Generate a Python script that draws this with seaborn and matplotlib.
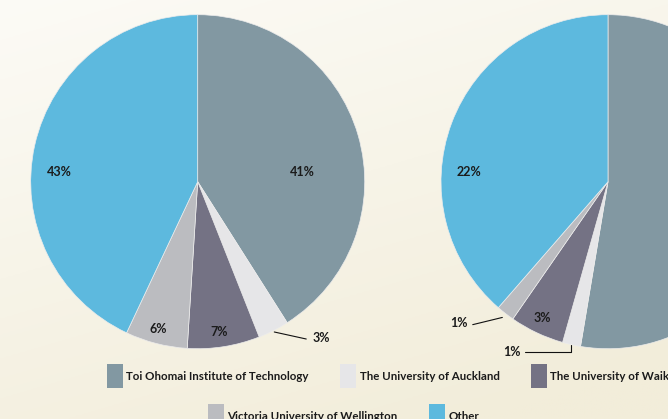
import numpy as np
import seaborn as sns
import matplotlib.pyplot as plt
from matplotlib.patches import Rectangle
from matplotlib.legend_handler import HandlerPatch

# data
institutions = ["Toi Ohomai Institute of Technology", "The University of Auckland",
                "The University of Waikato", "Victoria University of Wellington", "Other"]
share_left = [41, 3, 7, 6, 43]
share_right = [30, 1, 3, 1, 22]
colors = ["#8298a2", "#e6e6e8", "#747284", "#bbbcc0", "#5db9de"]

sns.set_theme(style="white")
plt.rcParams['font.family'] = ['Lato', 'DejaVu Sans']

W, H = 668, 419
fig = plt.figure(figsize=(W / 100, H / 100), dpi=100)

# cream gradient background
bg = fig.add_axes([0, 0, 1, 1], zorder=-10)
yy, xx = np.mgrid[0:1:200j, 0:1:300j]
t = np.clip(0.75 * yy + 0.35 * xx, 0, 1)
c0 = np.array([252, 251, 246]) / 255
c1 = np.array([242, 237, 218]) / 255
img = c0 + (c1 - c0) * t[..., None]
bg.imshow(img, aspect='auto', extent=[0, 1, 0, 1])
bg.axis('off')


def pie_axes(cx, cy, r):
    return fig.add_axes([(cx - r) / W, 1 - (cy + r) / H, 2 * r / W, 2 * r / H])


def draw_pie(ax, values, label_pos):
    wedges, _ = ax.pie(values, colors=colors, startangle=90, counterclock=False,
                       wedgeprops=dict(edgecolor='#ececec', linewidth=0.5))
    for w in wedges:
        w.set_clip_on(False)
    ax.set_xlim(-1, 1)
    ax.set_ylim(-1, 1)
    for v, (x, y) in zip(values, label_pos):
        ax.text(x, y, f"{v}%", ha='center', va='center', fontsize=9,
                fontweight='bold', color='#1b1b1b')
    return wedges


def mid_point(w, r=1.01):
    a = np.deg2rad((w.theta1 + w.theta2) / 2)
    return r * np.cos(a), r * np.sin(a)


ax1 = pie_axes(197.7, 181.7, 167)
w1 = draw_pie(ax1, share_left,
              [(0.629, 0.06), (0.74, -0.934), (0.128, -0.902), (-0.238, -0.882), (-0.83, 0.058)])
sx, sy = mid_point(w1[1])
ax1.plot([sx, 0.65], [sy, -0.942], color='#111111', lw=0.8, clip_on=False)

ax2 = pie_axes(608, 181.7, 167)
w2 = draw_pie(ax2, share_right,
              [(0.9, 0.06), (-0.575, -1.022), (-0.391, -0.814), (-0.89, -0.848), (-0.83, 0.058)])
sx, sy = mid_point(w2[1], 1.0)
ax2.plot([sx, sx, -0.50], [sy, -1.022, -1.022], color='#111111', lw=0.8, clip_on=False)
sx, sy = mid_point(w2[3], 1.03)
ax2.plot([sx, -0.81], [sy, -0.856], color='#111111', lw=0.8, clip_on=False)

fs = 8.3
px = fs * 100 / 72


def tall_patch(legend, orig_handle, xdescent, ydescent, width, height, fontsize):
    # 24 px tall box, 8 px below the text baseline
    return Rectangle((-xdescent, -8 * 0.72), width, 24 * 0.72)


handles = [Rectangle((0, 0), 1, 1, facecolor=c, edgecolor='none') for c in colors]
leg_kw = dict(loc='upper left', frameon=False, borderpad=0, borderaxespad=0,
              handlelength=16 / px, handleheight=24 / px,
              handletextpad=0.3, columnspacing=2.7,
              handler_map={Rectangle: HandlerPatch(patch_func=tall_patch)},
              prop=dict(weight='bold', size=fs))
leg1 = fig.legend(handles[:3], institutions[:3], ncol=3,
                  bbox_to_anchor=(107 / W, 1 - 367 / H), **leg_kw)
leg2 = fig.legend(handles[3:], institutions[3:], ncol=2,
                  bbox_to_anchor=(208 / W, 1 - 407 / H), **leg_kw)
for leg in (leg1, leg2):
    for txt in leg.get_texts():
        txt.set_color('#1b1b1b')

fig.savefig('out.png', dpi=100)
